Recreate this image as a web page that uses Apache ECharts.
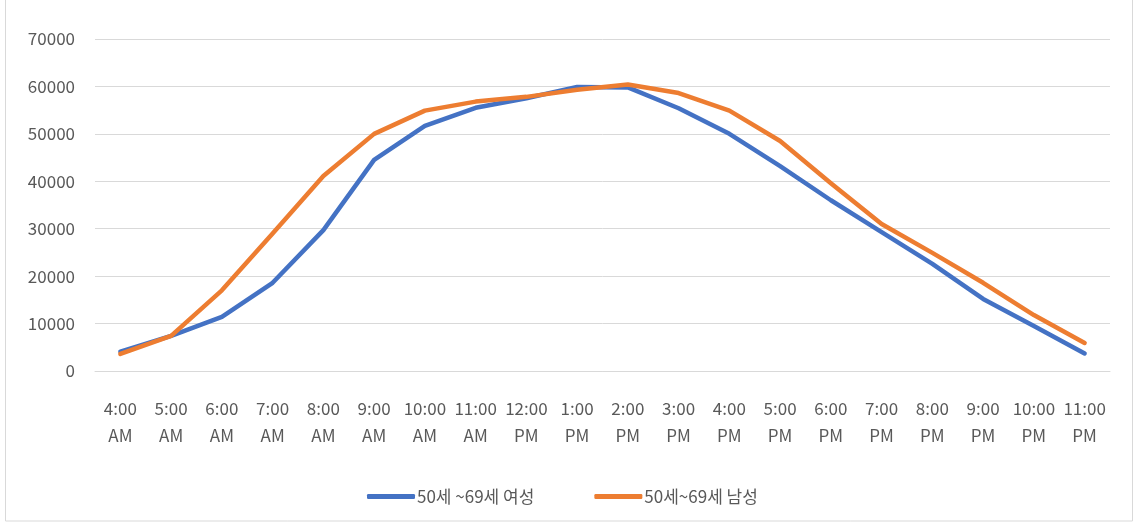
<!DOCTYPE html>
<html>
<head>
<meta charset="utf-8">
<script src="https://cdn.jsdelivr.net/npm/echarts@6/dist/echarts.min.js"></script>
<style>
  html, body { margin: 0; padding: 0; background: #fff; }
  #chart { width: 1138px; height: 524px; }
</style>
</head>
<body>
<div id="chart"></div>
<script>
// Hourly counts, 4 AM through 11 PM
const categories = [
  '4:00\nAM', '5:00\nAM', '6:00\nAM', '7:00\nAM', '8:00\nAM', '9:00\nAM',
  '10:00\nAM', '11:00\nAM', '12:00\nPM', '1:00\nPM', '2:00\nPM', '3:00\nPM',
  '4:00\nPM', '5:00\nPM', '6:00\nPM', '7:00\nPM', '8:00\nPM', '9:00\nPM',
  '10:00\nPM', '11:00\nPM'
];
const femaleName = '50세 ~69세 여성';
const maleName = '50세~69세 남성';
const femaleValues = [
  4100, 7400, 11400, 18600, 29700, 44500, 51700, 55500, 57500, 59900,
  59800, 55400, 50000, 43200, 36000, 29300, 22600, 15200, 9500, 3700
];
const maleValues = [
  3600, 7400, 17000, 29000, 41100, 50000, 54900, 56800, 57800, 59300,
  60400, 58600, 54900, 48500, 39600, 31000, 24900, 18600, 11800, 5900
];
const yTicks = [0, 10000, 20000, 30000, 40000, 50000, 60000, 70000];

const font = '"Noto Sans CJK KR", "Noto Sans", sans-serif';
const textColor = '#595959';

const chart = echarts.init(document.getElementById('chart'), null, { renderer: 'canvas' });
chart.setOption({
  backgroundColor: '#fff',
  animation: false,
  graphic: [{
    type: 'rect',
    shape: { x: 5.5, y: -2, width: 1127, height: 523 },
    style: { fill: 'none', stroke: '#d9d9d9', lineWidth: 1 },
    silent: true
  }],
  grid: { left: 95, right: 28, top: 39, bottom: 153 },
  legend: {
    bottom: 14,
    left: 362,
    itemWidth: 48,
    itemHeight: 5,
    itemGap: 60,
    icon: 'roundRect',
    textStyle: { color: textColor, fontSize: 17, fontFamily: font, padding: [0, 0, 0, -3] },
    data: [femaleName, maleName]
  },
  xAxis: {
    type: 'category',
    data: categories,
    boundaryGap: true,
    axisLine: { show: true, lineStyle: { color: '#d9d9d9', width: 1 } },
    axisTick: { show: false },
    axisLabel: {
      color: textColor, fontSize: 17, fontFamily: font,
      lineHeight: 27, margin: 24, interval: 0
    }
  },
  yAxis: {
    type: 'value',
    min: yTicks[0],
    max: yTicks[yTicks.length - 1],
    interval: 10000,
    axisLine: { show: false },
    axisTick: { show: false },
    splitLine: { lineStyle: { color: '#d9d9d9', width: 1 } },
    axisLabel: {
      color: textColor, fontSize: 17, fontFamily: font, margin: 20,
      formatter: v => String(v)
    }
  },
  series: [
    {
      name: femaleName, type: 'line', data: femaleValues,
      symbol: 'none', smooth: false,
      lineStyle: { color: '#4472C4', width: 4.5, cap: 'round', join: 'round' },
      itemStyle: { color: '#4472C4' }
    },
    {
      name: maleName, type: 'line', data: maleValues,
      symbol: 'none', smooth: false,
      lineStyle: { color: '#ED7D31', width: 4.5, cap: 'round', join: 'round' },
      itemStyle: { color: '#ED7D31' }
    }
  ]
});
</script>
</body>
</html>
